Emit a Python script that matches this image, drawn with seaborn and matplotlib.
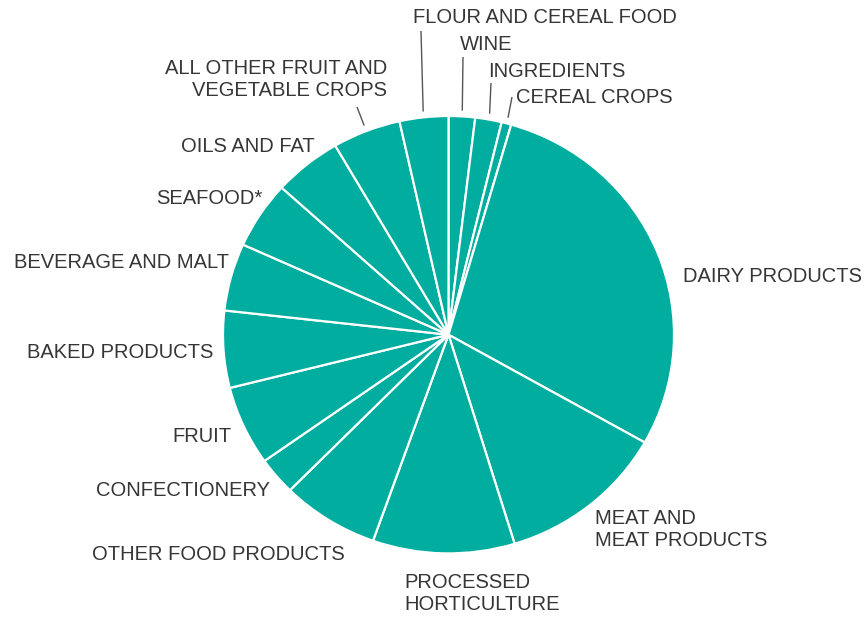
import numpy as np
import matplotlib
matplotlib.use("Agg")
import matplotlib.pyplot as plt
import seaborn as sns

# Share of food manufacturing output by sector (%), clockwise from the top
categories = [
    "WINE", "INGREDIENTS", "CEREAL CROPS", "DAIRY PRODUCTS",
    "MEAT AND\nMEAT PRODUCTS", "PROCESSED\nHORTICULTURE", "OTHER FOOD PRODUCTS",
    "CONFECTIONERY", "FRUIT", "BAKED PRODUCTS", "BEVERAGE AND MALT",
    "SEAFOOD*", "OILS AND FAT", "ALL OTHER FRUIT AND\nVEGETABLE CROPS",
    "FLOUR AND CEREAL FOOD",
]
shares = [1.9, 1.9, 0.7, 28.8, 12.1, 10.2, 7.0, 2.8, 5.9, 5.7, 5.0, 5.0, 4.9, 4.9, 3.5]

# Label placement in figure pixels (x, y from top), alignment, and leader-line end
label_layout = {
    "WINE": (460, 44, "left", (463, 57)),
    "INGREDIENTS": (488, 71, "left", (491, 83)),
    "CEREAL CROPS": (516, 97, "left", (512, 97)),
    "DAIRY PRODUCTS": (683, 276, "left", None),
    "MEAT AND\nMEAT PRODUCTS": (595, 530, "left", None),
    "PROCESSED\nHORTICULTURE": (404, 593, "left", None),
    "OTHER FOOD PRODUCTS": (345, 555, "right", None),
    "CONFECTIONERY": (270, 490, "right", None),
    "FRUIT": (232, 436, "right", None),
    "BAKED PRODUCTS": (213, 352, "right", None),
    "BEVERAGE AND MALT": (229, 263, "right", None),
    "SEAFOOD*": (262, 198, "right", None),
    "OILS AND FAT": (315, 146, "right", None),
    "ALL OTHER FRUIT AND\nVEGETABLE CROPS": (387, 80, "right", (357, 107)),
    "FLOUR AND CEREAL FOOD": (413, 17, "left", (421, 31)),
}

W, H = 864, 617
sns.set_theme(style="white")
plt.rcParams["font.family"] = ["Liberation Sans", "DejaVu Sans"]

teal = "#00ad9f"
text_color = "#363636"

fig = plt.figure(figsize=(W / 100, H / 100), dpi=100)
ax = fig.add_axes([0, 0, 1, 1])

# the disc is drawn slightly wider than tall
sy = 218.7 / 225.5


def to_data(px, py):
    return px, (H - py) / sy


radius = 225.5
cx, cy = to_data(448.5, 334.7)
wedges, _ = ax.pie(
    shares,
    colors=[teal] * len(shares),
    startangle=90,
    counterclock=False,
    center=(cx, cy),
    radius=radius,
    wedgeprops=dict(edgecolor="white", linewidth=1.6),
)

for wedge, name in zip(wedges, categories):
    x, y_top, ha, line_end = label_layout[name]
    tx, ty = to_data(x, y_top)
    ax.text(tx, ty, name, ha=ha, va="center", fontsize=14.5,
            color=text_color, linespacing=1.2)
    if line_end is not None:
        mid = np.deg2rad((wedge.theta1 + wedge.theta2) / 2)
        rim = (cx + (radius + 6) * np.cos(mid), cy + (radius + 6) * np.sin(mid))
        ex, ey = to_data(*line_end)
        ax.plot([rim[0], ex], [rim[1], ey],
                color="#555555", linewidth=1.0, solid_capstyle="butt")

ax.set_xlim(0, W)
ax.set_ylim(0, H / sy)
ax.set_aspect("auto")
ax.axis("off")

fig.savefig("out.png", dpi=100, facecolor="white")
